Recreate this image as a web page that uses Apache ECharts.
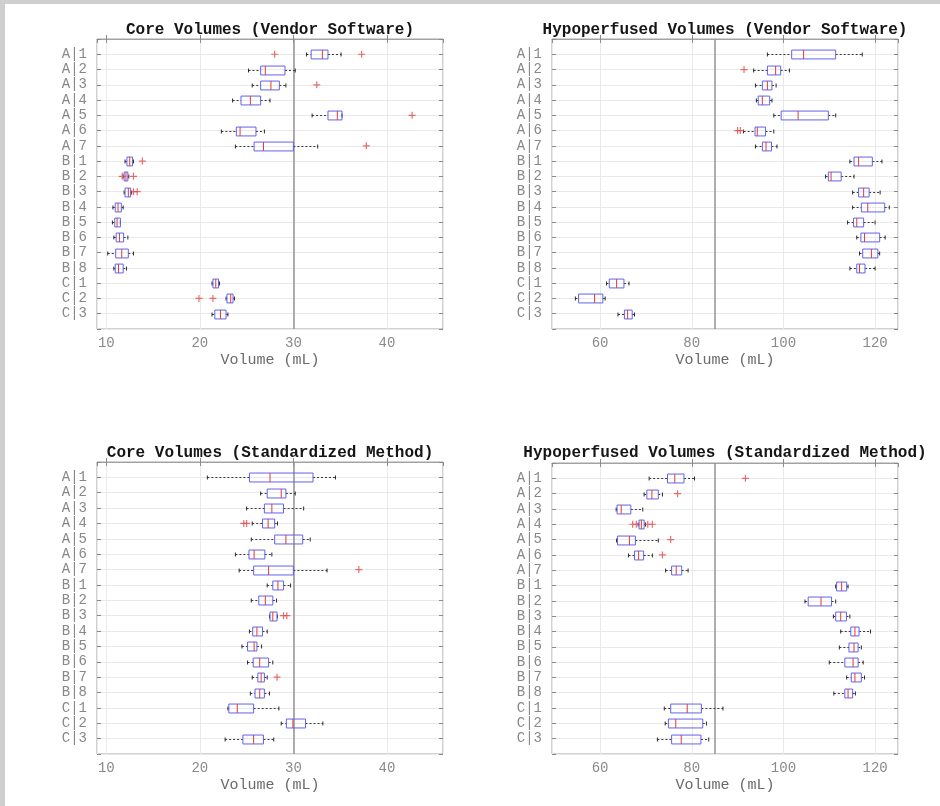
<!DOCTYPE html>
<html>
<head>
<meta charset="utf-8">
<title>Core and Hypoperfused Volumes</title>
<script src="https://cdn.jsdelivr.net/npm/echarts@6/dist/echarts.min.js"></script>
<style>
  html, body { margin: 0; padding: 0; background: #cfcfcf; }
  #sheet { position: absolute; left: 5px; top: 4px; width: 935px; height: 802px; background: #ffffff; }
  #chart { position: absolute; left: 0; top: 0; width: 940px; height: 806px; }
</style>
</head>
<body>
<div id="sheet"></div>
<div id="chart"></div>
<script>
// Site / scanner labels, top to bottom
const categories = ['A|1','A|2','A|3','A|4','A|5','A|6','A|7',
  'B|1','B|2','B|3','B|4','B|5','B|6','B|7','B|8','C|1','C|2','C|3'];

// Each row: [lower whisker, Q1, median, Q3, upper whisker] in mL
const coreVendor = [
  [31.4, 31.9, 33.1, 33.7, 35.1],
  [25.2, 26.5, 27.0, 29.1, 30.2],
  [25.6, 26.5, 27.6, 28.5, 29.2],
  [23.5, 24.4, 25.4, 26.5, 27.5],
  [32.0, 33.7, 34.7, 35.2, 35.2],
  [22.3, 23.9, 24.3, 26.0, 26.9],
  [23.8, 25.8, 26.8, 30.0, 32.6],
  [12.0, 12.2, 12.5, 12.8, 12.9],
  [11.8, 11.9, 12.1, 12.3, 12.4],
  [11.9, 12.0, 12.35, 12.6, 12.7],
  [10.7, 10.95, 11.25, 11.6, 11.8],
  [10.65, 10.9, 11.15, 11.5, 11.5],
  [10.8, 11.05, 11.4, 11.85, 12.3],
  [10.15, 11.0, 11.65, 12.35, 12.9],
  [10.8, 10.95, 11.3, 11.8, 12.15],
  [21.3, 21.4, 21.7, 22.0, 22.1],
  [22.8, 22.9, 23.3, 23.55, 23.7],
  [21.3, 21.6, 22.2, 22.8, 23.0]
];
const coreVendorOutliers = [
  ['A|1', 28.0], ['A|1', 37.3], ['A|3', 32.5], ['A|5', 42.7], ['A|7', 37.8],
  ['B|1', 13.85], ['B|2', 11.7], ['B|2', 12.9], ['B|3', 12.9], ['B|3', 13.3],
  ['C|2', 19.9], ['C|2', 21.4]
];

const hypoVendor = [
  [96.5, 101.8, 104.4, 111.4, 117.2],
  [93.5, 96.5, 98.3, 99.4, 101.3],
  [93.9, 95.4, 96.5, 97.5, 98.4],
  [94.1, 94.5, 95.4, 97.0, 97.5],
  [97.9, 99.5, 103.2, 109.8, 111.4],
  [91.3, 93.8, 94.3, 96.1, 97.9],
  [93.9, 95.4, 96.2, 97.4, 98.6],
  [114.5, 115.4, 116.4, 119.4, 121.5],
  [109.2, 109.8, 110.4, 112.6, 115.4],
  [115.1, 116.4, 117.5, 118.7, 121.1],
  [115.1, 117.0, 118.4, 122.1, 123.1],
  [114.0, 115.3, 116.0, 117.5, 120.0],
  [116.0, 116.9, 117.7, 121.0, 122.2],
  [116.6, 117.3, 119.2, 120.6, 121.0],
  [114.5, 116.0, 116.6, 117.8, 120.0],
  [61.4, 62.0, 63.6, 65.2, 66.3],
  [54.6, 55.3, 58.8, 60.6, 61.1],
  [63.9, 65.3, 66.0, 67.0, 67.5]
];
const hypoVendorOutliers = [
  ['A|2', 91.4], ['A|6', 90.0], ['A|6', 90.6]
];

const coreStandard = [
  [20.8, 25.3, 27.5, 32.1, 34.5],
  [26.5, 27.2, 28.7, 29.2, 30.2],
  [25.0, 26.9, 27.7, 28.95, 31.1],
  [25.6, 26.7, 27.3, 28.0, 28.3],
  [25.5, 28.0, 29.2, 31.0, 31.8],
  [23.8, 25.25, 25.8, 26.95, 27.7],
  [24.2, 25.75, 27.35, 30.0, 33.6],
  [27.2, 27.8, 28.35, 28.95, 29.7],
  [25.5, 26.3, 27.0, 27.8, 28.2],
  [27.45, 27.5, 27.8, 28.25, 28.3],
  [25.3, 25.65, 26.1, 26.7, 27.2],
  [24.5, 25.1, 25.8, 26.1, 26.6],
  [25.1, 25.7, 26.4, 27.35, 27.8],
  [25.6, 26.2, 26.55, 26.9, 27.2],
  [25.4, 25.9, 26.4, 26.9, 27.45],
  [23.0, 23.1, 24.0, 25.75, 28.45],
  [28.7, 29.25, 29.95, 31.3, 33.15],
  [22.7, 24.6, 25.75, 26.8, 27.9]
];
const coreStandardOutliers = [
  ['A|4', 24.7], ['A|4', 25.0], ['A|7', 37.0],
  ['B|3', 28.95], ['B|3', 29.3], ['B|7', 28.25]
];

const hypoStandard = [
  [70.7, 74.7, 76.3, 78.3, 80.6],
  [69.6, 70.2, 71.3, 72.7, 73.6],
  [63.5, 63.7, 64.6, 66.7, 69.3],
  [68.3, 68.5, 69.0, 69.6, 69.9],
  [63.6, 63.8, 66.4, 67.7, 72.7],
  [66.2, 67.5, 68.4, 69.5, 71.4],
  [74.3, 75.6, 76.6, 77.8, 79.2],
  [111.4, 111.6, 112.7, 113.8, 114.1],
  [104.7, 105.4, 108.2, 110.5, 111.4],
  [110.9, 111.4, 112.5, 113.75, 114.5],
  [112.5, 114.7, 115.6, 116.5, 119.0],
  [112.2, 114.3, 115.4, 116.3, 117.0],
  [110.0, 113.4, 115.2, 116.3, 117.4],
  [113.8, 114.8, 115.6, 117.0, 117.7],
  [111.0, 113.4, 114.1, 115.1, 115.7],
  [74.0, 75.4, 79.0, 82.1, 86.8],
  [74.2, 74.9, 76.5, 82.4, 83.2],
  [72.5, 75.6, 77.7, 82.0, 83.7]
];
const hypoStandardOutliers = [
  ['A|1', 91.7], ['A|2', 76.9], ['A|4', 67.1], ['A|4', 67.9],
  ['A|4', 70.4], ['A|4', 71.4], ['A|5', 75.4], ['A|6', 73.6]
];

// Reference volumes drawn as vertical lines
const coreReference = 30;
const hypoReference = 85;

const panelTitles = [
  'Core Volumes (Vendor Software)',
  'Hypoperfused Volumes (Vendor Software)',
  'Core Volumes (Standardized Method)',
  'Hypoperfused Volumes (Standardized Method)'
];
const xLabel = 'Volume (mL)';

const FONT = '"Liberation Mono", "DejaVu Sans Mono", monospace';
const BOX_BLUE = '#6262ee';
const MEDIAN_RED = '#dd3b3b';
const OUTLIER_RED = '#e44848';
const GRID_LINE = '#e9e9e9';
const FRAME = '#a2a2a2';

const panels = [
  { boxes: coreVendor, outliers: coreVendorOutliers, ref: coreReference, range: [9, 46], step: 10,
    grid: { left: 97, top: 39, width: 346, height: 290 }, titleTop: 22 },
  { boxes: hypoVendor, outliers: hypoVendorOutliers, ref: hypoReference, range: [49.5, 125], step: 20,
    grid: { left: 552, top: 39, width: 346, height: 290 }, titleTop: 22 },
  { boxes: coreStandard, outliers: coreStandardOutliers, ref: coreReference, range: [9, 46], step: 10,
    grid: { left: 97, top: 462, width: 346, height: 292 }, titleTop: 445 },
  { boxes: hypoStandard, outliers: hypoStandardOutliers, ref: hypoReference, range: [49.5, 125], step: 20,
    grid: { left: 552, top: 463, width: 346, height: 291 }, titleTop: 445 }
];

// One horizontal box-and-whisker glyph per row
function renderBox(params, api) {
  const y = api.value(0);
  const lo = api.coord([api.value(1), y]);
  const q1 = api.coord([api.value(2), y]);
  const md = api.coord([api.value(3), y]);
  const q3 = api.coord([api.value(4), y]);
  const hi = api.coord([api.value(5), y]);
  const unit = Math.abs(api.size([0, 1])[1]);
  const half = unit * 0.29;
  const cap = unit * 0.13;
  const cy = Math.round(lo[1]) + 0.5;
  const whisker = { stroke: '#3a3a3a', lineWidth: 1, lineDash: [2, 2] };
  const capStyle = { stroke: '#2a2a2a', lineWidth: 1 };
  const children = [];
  if (q1[0] - lo[0] > 0.5) {
    children.push({ type: 'line', shape: { x1: lo[0], y1: cy, x2: q1[0], y2: cy }, style: whisker });
  }
  if (hi[0] - q3[0] > 0.5) {
    children.push({ type: 'line', shape: { x1: q3[0], y1: cy, x2: hi[0], y2: cy }, style: whisker });
  }
  children.push({ type: 'line', shape: { x1: lo[0], y1: cy - cap, x2: lo[0], y2: cy + cap }, style: capStyle });
  children.push({ type: 'line', shape: { x1: hi[0], y1: cy - cap, x2: hi[0], y2: cy + cap }, style: capStyle });
  children.push({
    type: 'rect',
    shape: { x: q1[0], y: cy - half, width: q3[0] - q1[0], height: half * 2 },
    style: { fill: 'none', stroke: BOX_BLUE, lineWidth: 1 }
  });
  children.push({
    type: 'line',
    shape: { x1: md[0], y1: cy - half, x2: md[0], y2: cy + half },
    style: { stroke: MEDIAN_RED, lineWidth: 1 }
  });
  return { type: 'group', children: children };
}

const grids = [], xAxes = [], yAxes = [], series = [], titles = [];

panels.forEach(function (p, i) {
  grids.push(Object.assign({ show: true, borderColor: FRAME, borderWidth: 1, backgroundColor: 'transparent' }, p.grid));

  titles.push({
    text: panelTitles[i],
    left: p.grid.left + p.grid.width / 2,
    top: p.titleTop,
    padding: 0,
    textAlign: 'center',
    textStyle: { fontFamily: FONT, fontSize: 16, fontWeight: 'bold', color: '#151515' }
  });

  // bottom value axis with labels and vertical grid lines
  xAxes.push({
    type: 'value', gridIndex: i, position: 'bottom',
    min: p.range[0], max: p.range[1], minInterval: p.step, maxInterval: p.step,
    name: xLabel, nameLocation: 'middle', nameGap: 24,
    nameTextStyle: { fontFamily: FONT, fontSize: 15, color: '#6a6a6a' },
    axisLine: { show: true, lineStyle: { color: FRAME } },
    axisTick: { show: true, inside: true, length: 4, lineStyle: { color: '#8a8a8a' } },
    axisLabel: { fontFamily: FONT, fontSize: 14, color: '#8a8a8a', margin: 7, showMinLabel: false, showMaxLabel: false,
      formatter: function (v) { return Number.isInteger(v) ? String(v) : ''; } },
    splitLine: { show: true, lineStyle: { color: GRID_LINE, width: 1 } }
  });
  // top edge ticks
  xAxes.push({
    type: 'value', gridIndex: i, position: 'top',
    min: p.range[0], max: p.range[1], minInterval: p.step, maxInterval: p.step,
    axisLine: { show: false },
    axisTick: { show: true, inside: true, length: 4, lineStyle: { color: '#8a8a8a' } },
    axisLabel: { show: false },
    splitLine: { show: false }
  });

  // rows are placed at 1..n with one empty unit above and below
  yAxes.push({
    type: 'value', gridIndex: i, position: 'left', inverse: true,
    min: 0, max: categories.length + 1, interval: 1,
    axisLine: { show: false },
    axisTick: { show: true, inside: true, length: 4, lineStyle: { color: '#8a8a8a' } },
    axisLabel: { fontFamily: FONT, fontSize: 14, color: '#888888', margin: 10,
      formatter: function (v) { return categories[v - 1] || ''; } },
    splitLine: { show: true, lineStyle: { color: GRID_LINE, width: 1 } }
  });
  yAxes.push({
    type: 'value', gridIndex: i, position: 'right', inverse: true,
    min: 0, max: categories.length + 1, interval: 1,
    axisLine: { show: false },
    axisTick: { show: true, inside: true, length: 4, lineStyle: { color: '#8a8a8a' } },
    axisLabel: { show: false },
    splitLine: { show: false }
  });

  series.push({
    type: 'scatter',
    xAxisIndex: i * 2, yAxisIndex: i * 2,
    symbol: 'path://M0,5L10,5M5,0L5,10',
    symbolSize: 7,
    itemStyle: { color: 'none', borderColor: OUTLIER_RED, borderWidth: 1.2 },
    data: p.outliers.map(function (o) { return [o[1], categories.indexOf(o[0]) + 1]; }),
    silent: true,
    z: 4,
    markLine: {
      silent: true, symbol: ['none', 'none'], label: { show: false },
      lineStyle: { color: '#939393', width: 1.5, type: 'solid' },
      data: [{ xAxis: p.ref }],
      z: 1
    }
  });

  series.push({
    type: 'custom',
    xAxisIndex: i * 2, yAxisIndex: i * 2,
    renderItem: renderBox,
    encode: { x: [1, 2, 3, 4, 5], y: 0 },
    data: p.boxes.map(function (b, k) { return [k + 1].concat(b); }),
    silent: true,
    z: 3
  });
});

const chart = echarts.init(document.getElementById('chart'), null, { renderer: 'canvas' });
chart.setOption({
  backgroundColor: 'transparent',
  animation: false,
  title: titles,
  grid: grids,
  xAxis: xAxes,
  yAxis: yAxes,
  series: series
});
</script>
</body>
</html>
